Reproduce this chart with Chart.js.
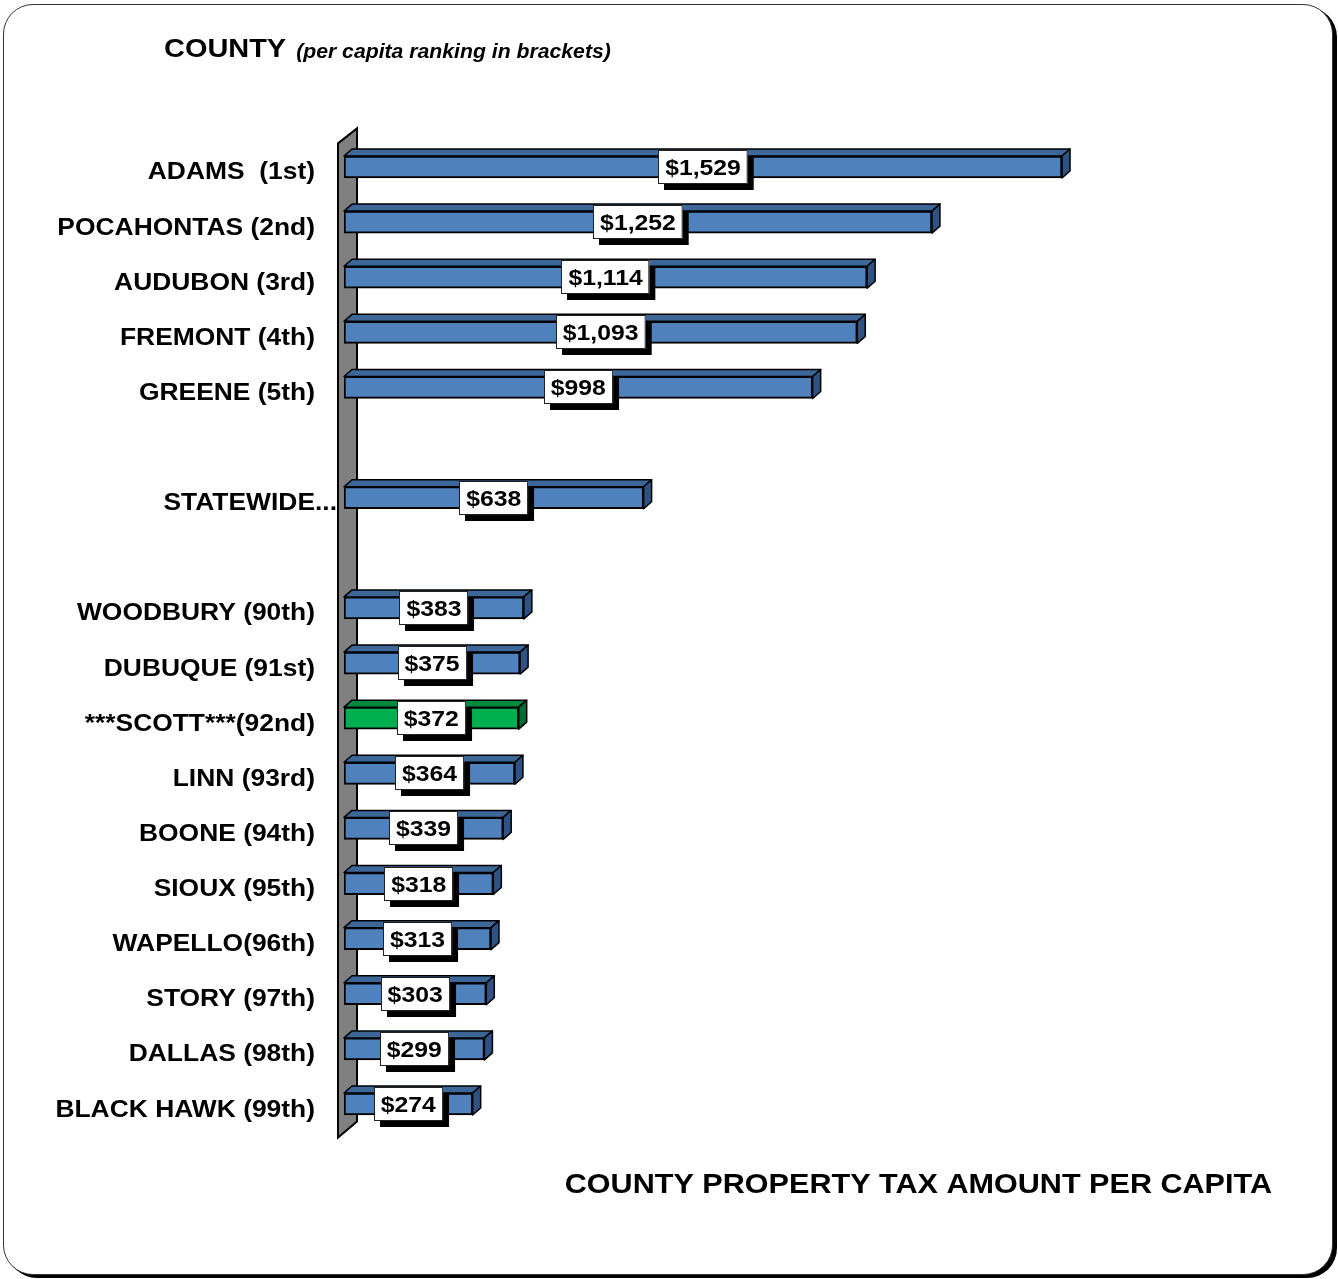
<!DOCTYPE html>
<html>
<head>
<meta charset="utf-8">
<script src="https://cdn.jsdelivr.net/npm/chart.js@4/dist/chart.umd.min.js"></script>
<style>
  body { margin: 0; background: #fff; }
  #frame {
    position: absolute; left: 3px; top: 4px; width: 1328px; height: 1269px;
    border: 1.5px solid #333; border-radius: 30px; box-shadow: 4px 3px 0 #000;
    background: #fff;
  }
  #chart { position: absolute; left: 0; top: 0; }
</style>
</head>
<body>
<div id="frame"></div>
<canvas id="chart" width="1338" height="1279"></canvas>
<script>
// County rows, blank rows are spacers around the statewide bar
const counties = [
  'ADAMS  (1st)', 'POCAHONTAS (2nd)', 'AUDUBON (3rd)', 'FREMONT (4th)', 'GREENE (5th)',
  '', 'STATEWIDE...', '',
  'WOODBURY (90th)', 'DUBUQUE (91st)', '***SCOTT***(92nd)', 'LINN (93rd)', 'BOONE (94th)',
  'SIOUX (95th)', 'WAPELLO(96th)', 'STORY (97th)', 'DALLAS (98th)', 'BLACK HAWK (99th)'
];
const perCapita = [1529, 1252, 1114, 1093, 998, null, 638, null,
  383, 375, 372, 364, 339, 318, 313, 303, 299, 274];
const highlighted = ['***SCOTT***(92nd)'];

const BLUE = { front: '#4f81bd', top: '#3d6699', side: '#2e5283' };
const GREEN = { front: '#00b050', top: '#008a3e', side: '#006b30' };
const STRETCH = 1.1; // text in this chart is drawn slightly wide
const FONT = '"Liberation Sans", Arial, sans-serif';

function palette(i) {
  return highlighted.includes(counties[i]) ? GREEN : BLUE;
}

function wideText(ctx, text, x, y, align) {
  const w = ctx.measureText(text).width * STRETCH;
  let left = x;
  if (align === 'right') left = x - w;
  if (align === 'center') left = x - w / 2;
  ctx.save();
  ctx.translate(left, y);
  ctx.scale(STRETCH, 1);
  ctx.textAlign = 'left';
  ctx.fillText(text, 0, 0);
  ctx.restore();
  return w;
}

const money = v => '$' + v.toLocaleString('en-US');

// back wall on the left edge of the plot
const wallPlugin = {
  id: 'wall',
  beforeDatasetsDraw(chart) {
    const { ctx, chartArea: a } = chart;
    const l = a.left - 6, r = a.left + 13;
    ctx.save();
    ctx.beginPath();
    ctx.moveTo(l, a.top + 4);
    ctx.lineTo(r, a.top - 11);
    ctx.lineTo(r, a.bottom - 10);
    ctx.lineTo(l, a.bottom + 6);
    ctx.closePath();
    ctx.fillStyle = '#808080';
    ctx.fill();
    ctx.lineWidth = 2;
    ctx.strokeStyle = '#000';
    ctx.stroke();
    ctx.restore();
  }
};

// top and end faces that give the bars depth
const depthPlugin = {
  id: 'depth',
  afterDatasetsDraw(chart) {
    const { ctx } = chart;
    const dx = 8, dy = 7;
    chart.getDatasetMeta(0).data.forEach((bar, i) => {
      if (perCapita[i] == null) return;
      const { x, y, base, height } = bar.getProps(['x', 'y', 'base', 'height'], true);
      const t = y - height / 2, b = y + height / 2;
      const c = palette(i);
      ctx.save();
      ctx.lineWidth = 1.5;
      ctx.strokeStyle = '#000';
      ctx.lineJoin = 'round';
      ctx.beginPath();
      ctx.moveTo(base, t);
      ctx.lineTo(base + dx, t - dy);
      ctx.lineTo(x + dx, t - dy);
      ctx.lineTo(x, t);
      ctx.closePath();
      ctx.fillStyle = c.top;
      ctx.fill();
      ctx.stroke();
      ctx.beginPath();
      ctx.moveTo(x, t);
      ctx.lineTo(x + dx, t - dy);
      ctx.lineTo(x + dx, b - dy);
      ctx.lineTo(x, b);
      ctx.closePath();
      ctx.fillStyle = c.side;
      ctx.fill();
      ctx.stroke();
      ctx.restore();
    });
  }
};

// value boxes, row names and headings
const textPlugin = {
  id: 'texts',
  afterDraw(chart) {
    const { ctx } = chart;
    const yScale = chart.scales.y;
    const meta = chart.getDatasetMeta(0);

    ctx.save();
    ctx.fillStyle = '#000';
    ctx.font = 'bold 24px ' + FONT;
    ctx.textBaseline = 'alphabetic';
    counties.forEach((name, i) => {
      if (!name) return;
      const y = yScale.getPixelForValue(i) + 12.5;
      const core = name.replace(/\.+$/, '');
      const w = ctx.measureText(core).width * STRETCH;
      wideText(ctx, name, 315 - w, y, 'left');
    });

    ctx.font = 'bold 22.5px ' + FONT;
    meta.data.forEach((bar, i) => {
      const v = perCapita[i];
      if (v == null) return;
      const { x, y, base } = bar.getProps(['x', 'y', 'base'], true);
      const label = money(v);
      const tw = ctx.measureText(label).width * STRETCH;
      const bw = tw + 14, bh = 34;
      const cx = (x + base) / 2;
      const bx = Math.round(cx - bw / 2), by = Math.round(y - bh / 2);
      ctx.fillStyle = '#000';
      ctx.fillRect(bx + 6, by + 6, bw, bh);
      ctx.fillStyle = '#fff';
      ctx.fillRect(bx, by, bw, bh);
      ctx.lineWidth = 1;
      ctx.strokeStyle = '#222';
      ctx.strokeRect(bx + 0.5, by + 0.5, bw - 1, bh - 1);
      ctx.fillStyle = '#000';
      wideText(ctx, label, cx, y + 8, 'center');
    });

    ctx.font = 'bold 26.3px ' + FONT;
    const w1 = wideText(ctx, 'COUNTY', 164, 57, 'left');
    ctx.font = 'italic bold 19.3px ' + FONT;
    wideText(ctx, '(per capita ranking in brackets)', 164 + w1 + 10, 58, 'left');

    ctx.font = 'bold 27.8px ' + FONT;
    wideText(ctx, 'COUNTY PROPERTY TAX AMOUNT PER CAPITA', 1272, 1193, 'right');
    ctx.restore();
  }
};

new Chart(document.getElementById('chart'), {
  type: 'bar',
  data: {
    labels: counties,
    datasets: [{
      data: perCapita,
      backgroundColor: counties.map((_, i) => palette(i).front),
      borderColor: '#000',
      borderWidth: 2,
      borderSkipped: false,
      barThickness: 22
    }]
  },
  options: {
    indexAxis: 'y',
    responsive: false,
    animation: false,
    devicePixelRatio: 1,
    layout: { padding: { left: 344, right: 54.8, top: 139.4, bottom: 147.4 } },
    scales: {
      x: { display: false, min: 0, max: 2000 },
      y: { display: false }
    },
    plugins: {
      legend: { display: false },
      tooltip: { enabled: false }
    }
  },
  plugins: [wallPlugin, depthPlugin, textPlugin]
});
</script>
</body>
</html>
